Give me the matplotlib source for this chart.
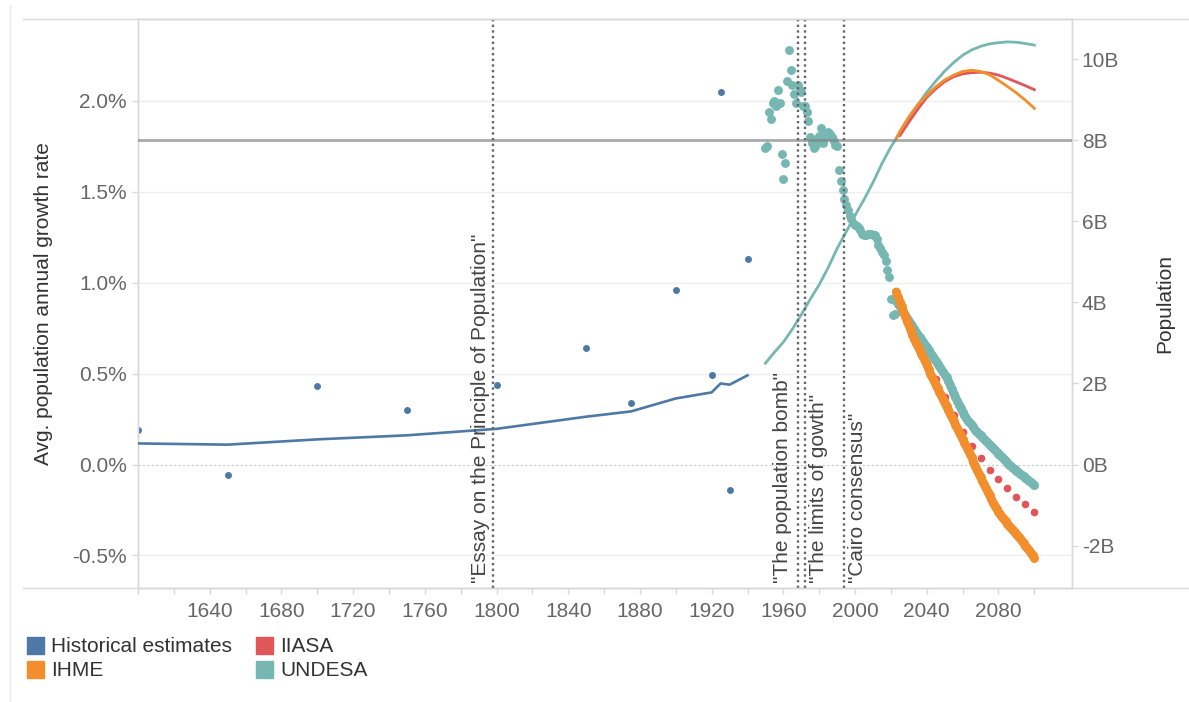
import matplotlib
matplotlib.use("Agg")
import matplotlib.pyplot as plt
import matplotlib.transforms as mtransforms
from matplotlib.lines import Line2D
from matplotlib.patches import Rectangle
from matplotlib.ticker import FixedLocator, FuncFormatter

plt.rcParams['font.family'] = ['Liberation Sans', 'DejaVu Sans']
plt.rcParams['axes.unicode_minus'] = False

# --- data ---
hist_years = [1600, 1650, 1700, 1750, 1800, 1850, 1875, 1900, 1920, 1925, 1930, 1940]
hist_growth = [0.19, -0.06, 0.43, 0.30, 0.44, 0.64, 0.34, 0.96, 0.49, 2.05, -0.14, 1.13]
hist_pop = [0.52, 0.49, 0.62, 0.72, 0.88, 1.18, 1.31, 1.63, 1.78, 2.00, 1.97, 2.20]

un_growth_years = list(range(1950, 2101))
un_growth = [
    1.74, 1.75, 1.94, 1.90, 1.99, 2.00, 1.97, 2.06, 1.99, 1.71,
    1.57, 1.66, 2.11, 2.28, 2.17, 2.09, 2.04, 1.99, 2.09, 2.06,
    2.05, 1.97, 1.97, 1.94, 1.89, 1.80, 1.77, 1.74, 1.76, 1.79,
    1.81, 1.85, 1.77, 1.80, 1.82, 1.83, 1.82, 1.80, 1.78, 1.76,
    1.75, 1.62, 1.56, 1.51, 1.46, 1.43, 1.40, 1.37, 1.35, 1.33,
    1.32, 1.31, 1.30, 1.29, 1.27, 1.26, 1.26, 1.27, 1.27, 1.27,
    1.26, 1.26, 1.24, 1.21, 1.19, 1.17, 1.15, 1.12, 1.07, 1.03,
    0.91, 0.82, 0.83,
    0.90, 0.885, 0.87, 0.855, 0.84, 0.82, 0.805, 0.79, 0.775, 0.76,
    0.745, 0.73, 0.715, 0.70, 0.69, 0.675, 0.66, 0.645, 0.63, 0.615,
    0.60, 0.585, 0.57, 0.555, 0.54, 0.525, 0.51, 0.495, 0.48, 0.46,
    0.44, 0.415, 0.39, 0.37, 0.35, 0.33, 0.31, 0.29, 0.27, 0.255,
    0.24, 0.23, 0.22, 0.205, 0.19, 0.18, 0.17, 0.16, 0.15, 0.14,
    0.13, 0.12, 0.11, 0.10, 0.09, 0.08, 0.07, 0.06, 0.05, 0.04,
    0.03, 0.02, 0.01, 0.00, -0.01, -0.02, -0.027, -0.035, -0.043, -0.05,
    -0.058, -0.066, -0.074, -0.082, -0.09, -0.098, -0.106, -0.115,
]
un_proj_start = 2023  # first projected year (drawn as a dense band)

ihme_growth_years = list(range(2023, 2101))
ihme_growth = [
    0.95, 0.92, 0.895, 0.87, 0.84, 0.815, 0.79, 0.765, 0.74, 0.715,
    0.69, 0.67, 0.65, 0.63, 0.61, 0.59, 0.57, 0.55, 0.525, 0.50,
    0.48, 0.46, 0.44, 0.42, 0.40, 0.38, 0.36, 0.34, 0.32, 0.30,
    0.28, 0.26, 0.24, 0.22, 0.20, 0.18, 0.16, 0.14, 0.12, 0.10,
    0.08, 0.06, 0.04, 0.015, -0.01, -0.03, -0.05, -0.07, -0.09, -0.11,
    -0.13, -0.15, -0.17, -0.19, -0.21, -0.228, -0.245, -0.26, -0.275, -0.29,
    -0.30, -0.313, -0.325, -0.337, -0.349, -0.361, -0.373, -0.385, -0.396, -0.407,
    -0.42, -0.433, -0.446, -0.459, -0.472, -0.486, -0.50, -0.515,
]

iiasa_growth_years = list(range(2030, 2101, 5))
iiasa_growth = [0.78, 0.67, 0.56, 0.47, 0.37, 0.27, 0.18, 0.10, 0.035, -0.03,
                -0.08, -0.13, -0.18, -0.22, -0.26]

un_pop_years = list(range(1950, 2101, 5))
un_pop = [2.50, 2.77, 3.02, 3.34, 3.70, 4.08, 4.44, 4.86, 5.33, 5.74, 6.15,
          6.54, 6.96, 7.43, 7.84, 8.19, 8.55, 8.88, 9.19, 9.46, 9.71, 9.92,
          10.10, 10.23, 10.32, 10.38, 10.41, 10.43, 10.42, 10.39, 10.35]

ihme_pop_years = [2023] + list(range(2025, 2101, 5))
ihme_pop = [8.05, 8.22, 8.58, 8.88, 9.11, 9.32, 9.49, 9.61, 9.70, 9.73, 9.70,
            9.62, 9.48, 9.33, 9.17, 8.99, 8.79]

iiasa_pop_years = list(range(2025, 2101, 5))
iiasa_pop = [8.12, 8.45, 8.77, 9.06, 9.27, 9.45, 9.57, 9.64, 9.67, 9.68, 9.66,
             9.61, 9.53, 9.44, 9.35, 9.25]

events = [(1798, '"Essay on the Principle of Population"', -12),
          (1968, '"The population bomb"', -15),
          (1972, '"The limits of gowth"', 14),
          (1994, '"Cairo consensus"', 13)]
current_pop = 8.0

C_HIST = '#4e79a7'
C_IHME = '#f28e2b'
C_IIASA = '#e15759'
C_UN = '#76b7b2'
TICK_C = '#666666'
FRAME_C = '#d9d9d9'

W, H = 1189, 702
fig = plt.figure(figsize=(W / 100, H / 100), dpi=100)


def fx(x):
    return x / W


def fy(y):
    return 1 - y / H


ax_l, ax_r, ax_t, ax_b = 138, 1072, 19, 588
ax = fig.add_axes([fx(ax_l), fy(ax_b), fx(ax_r - ax_l), (ax_b - ax_t) / H])
ax2 = ax.twinx()

# pixel scales measured on the reference
zero_y = 464.5
px_per_pct = 181.75
px_per_b = 40.52
ax.set_ylim(-(ax_b - zero_y) / px_per_pct, (zero_y - ax_t) / px_per_pct)
ax2.set_ylim(-(ax_b - zero_y) / px_per_b, (zero_y - ax_t) / px_per_b)
ax.set_xlim(1600, 2121)

# growth-rate dots
ax.plot(hist_years, hist_growth, 'o', color=C_HIST, ms=5, mew=0, zorder=3)
ax.plot(iiasa_growth_years, iiasa_growth, 'o', color=C_IIASA, ms=5.5, mew=0, zorder=3)
ax.plot(un_growth_years, un_growth, 'o', color=C_UN, ms=6.4, mew=0, zorder=4)
# annual projections are so dense the dots merge into a band
k = un_growth_years.index(un_proj_start)
ax.plot(un_growth_years[k:], un_growth[k:], '-', color=C_UN, lw=6.2,
        solid_capstyle='round', zorder=4)
ax.plot(ihme_growth_years, ihme_growth, 'o-', color=C_IHME, ms=6.4, mew=0,
        lw=6.2, solid_capstyle='round', zorder=5)

# grid / zero line
for t in [-0.5, 0.5, 1.0, 1.5, 2.0]:
    ax.axhline(t, color='#efefef', lw=1, zorder=0)
ax.axhline(0, color='#c8c8c8', lw=0.8, ls=(0, (2, 2)), zorder=1)

# population lines
ax2.plot(hist_years, hist_pop, color=C_HIST, lw=1.9, zorder=3)
ax2.plot(un_pop_years, un_pop, color=C_UN, lw=2.0, zorder=3)
ax2.plot(iiasa_pop_years, iiasa_pop, color=C_IIASA, lw=2.0, zorder=4)
ax2.plot(ihme_pop_years, ihme_pop, color=C_IHME, lw=2.0, zorder=5)

ax2.axhline(current_pop, color='#808080', alpha=0.67, lw=2.0, zorder=6)

trans = mtransforms.blended_transform_factory(ax2.transData, ax2.transAxes)
for yr, label, dx in events:
    ax2.axvline(yr, color='#666666', lw=1.7, ls=(0, (1, 1.4)), zorder=7)
    ax2.annotate(label, xy=(yr, 0), xycoords=trans, xytext=(dx, 5),
                 textcoords='offset pixels', rotation=90, ha='center',
                 va='bottom', fontsize=15, color='#444444', zorder=8)

# axes styling
for a in (ax, ax2):
    for s in a.spines.values():
        s.set_color(FRAME_C)
        s.set_linewidth(1)
ax.patch.set_visible(False)

ax.set_yticks([-0.5, 0.0, 0.5, 1.0, 1.5, 2.0])
ax.yaxis.set_major_formatter(FuncFormatter(lambda v, p: f'{v:.1f}%'))
ax2.set_yticks([-2, 0, 2, 4, 6, 8, 10])
ax2.yaxis.set_major_formatter(FuncFormatter(lambda v, p: f'{v:.0f}B'))

xt = list(range(1600, 2101, 20))
ax.xaxis.set_major_locator(FixedLocator(xt))
ax.set_xticklabels([str(t) if (t % 40 == 0 and t > 1600) else '' for t in xt])

ax.tick_params(axis='y', colors=FRAME_C, labelcolor=TICK_C, labelsize=15,
               length=4, width=1, pad=4)
ax2.tick_params(axis='y', colors=FRAME_C, labelcolor=TICK_C, labelsize=15,
                length=4, width=1, pad=3)
ax.tick_params(axis='x', colors=FRAME_C, labelcolor=TICK_C, labelsize=15,
               length=4, width=1, pad=6)

ax.set_ylabel('Avg. population annual growth rate', fontsize=15, color='#333333',
              labelpad=14)
ax2.set_ylabel('Population', fontsize=15, color='#333333', labelpad=26)

# outer frame lines (dashboard borders)
fig.add_artist(Line2D([fx(23), fx(W)], [fy(ax_t), fy(ax_t)], color=FRAME_C, lw=1))
fig.add_artist(Line2D([fx(23), fx(W)], [fy(ax_b), fy(ax_b)], color=FRAME_C, lw=1))
fig.add_artist(Line2D([fx(10), fx(10)], [fy(5), fy(H)], color='#e8e8e8', lw=1))

# legend
legend_items = [('Historical estimates', C_HIST, 27, 637),
                ('IHME', C_IHME, 27, 661),
                ('IIASA', C_IIASA, 256, 637),
                ('UNDESA', C_UN, 256, 661)]
for name, col, x0, y0 in legend_items:
    fig.add_artist(Rectangle((fx(x0), fy(y0 + 16.5)), 16.5 / W, 16.5 / H,
                             color=col, transform=fig.transFigure))
    fig.text(fx(x0 + 24), fy(y0 + 15), name, fontsize=15, color='#333333',
             va='baseline', ha='left')

fig.savefig('out.png', dpi=100)
